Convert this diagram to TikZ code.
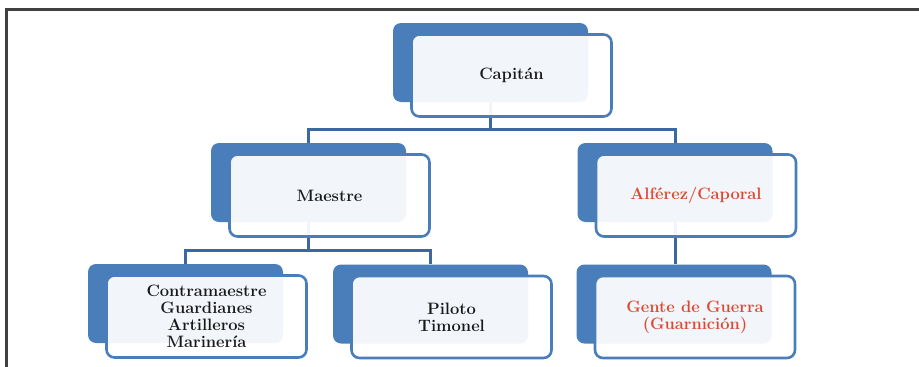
\documentclass[tikz,border=0pt]{standalone}
\usetikzlibrary{backgrounds}
\definecolor{boxblue}{RGB}{74,126,187}
\definecolor{lineblue}{RGB}{58,104,160}
\definecolor{txtred}{RGB}{222,72,48}
\definecolor{txtdark}{RGB}{25,25,25}
\begin{document}
\begin{tikzpicture}[x=1pt,y=-1pt,
	back node/.style={fill=boxblue,rounded corners=8pt,minimum width=195pt,minimum height=79pt},
	front node/.style={draw=boxblue,line width=2.6pt,fill=white,fill opacity=0.93,text opacity=1,rounded corners=8pt,
		minimum width=200pt,minimum height=82pt,align=center,font=\fontsize{16.5}{17}\selectfont\bfseries},
	link/.style={draw=lineblue,line width=3pt}
]
	\useasboundingbox (0,0) rectangle (919,367);
	\draw[line width=2.4pt,black!75] (6.5,367) |- (919,9.5);

	\def \dx {21};
	\def \dy {13};

	\foreach \nm/\x/\y/\col/\txt in {cap/490.5/62.5/txtdark/{Capitán},
		mae/308.5/182.5/txtdark/{Maestre},
		alf/675/182.5/txtred/{Alférez/Caporal},
		con/185.5/303.5/txtdark/{Contramaestre\\Guardianes\\Artilleros\\Marinería},
		pil/430.5/304/txtdark/{Piloto\\Timonel},
		gen/674/304/txtred/{Gente de Guerra\\(Guarnición)}} {
		\node[back node] (\nm) at (\x,\y) {};
		\node[front node,text=\col] (\nm T) at (\x+\dx,\y+\dy) {\txt};
	}

	\begin{scope}[on background layer]
		\draw[link] (cap.south) -- ++(0,27) -| (mae.north);
		\draw[link] (cap.south) -- ++(0,27) -| (alf.north);
		\draw[link] (mae.south) -- ++(0,28) -| (con.north);
		\draw[link] (mae.south) -- ++(0,28) -| (pil.north);
		\draw[link] (alf.south) -- (alf.south |- gen.north);
	\end{scope}
\end{tikzpicture}
\end{document}
